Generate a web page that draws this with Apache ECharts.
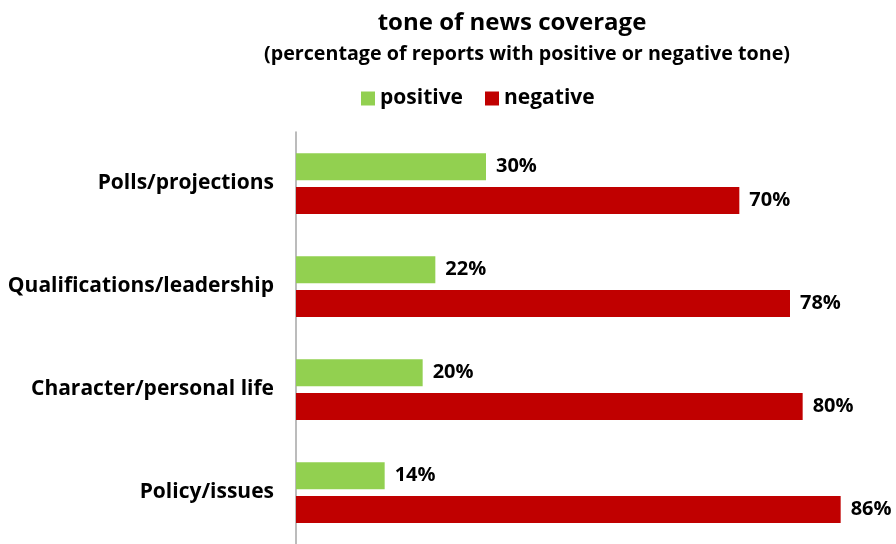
<!DOCTYPE html>
<html><head><meta charset="utf-8">
<script src="https://cdn.jsdelivr.net/npm/echarts@6/dist/echarts.min.js"></script>
<style>html,body{margin:0;padding:0;background:#fff}#c{width:896px;height:544px}</style>
</head><body><div id="c"></div>
<script>
const categories = ['Polls/projections', 'Qualifications/leadership', 'Character/personal life', 'Policy/issues'];
const positive = [30, 22, 20, 14];
const negative = [70, 78, 80, 86];
const FONT = 'Open Sans';
const chart = echarts.init(document.getElementById('c'));
const labelStyle = {show: true, position: 'right', distance: 10, formatter: '{c}%', color: '#000', fontFamily: FONT, fontWeight: 'bold', fontSize: 20, padding: [3, 0, 0, 0]};
chart.setOption({
  animation: false,
  title: [{
    text: 'tone of news coverage',
    left: 512, top: 11, textAlign: 'center', padding: 0,
    textStyle: {fontFamily: FONT, fontWeight: 'bold', fontSize: 24, color: '#000'}
  }, {
    text: '(percentage of reports with positive or negative tone)',
    left: 527, top: 44, textAlign: 'center', padding: 0,
    textStyle: {fontFamily: FONT, fontWeight: 'bold', fontSize: 19.7, color: '#000'}
  }],
  legend: {
    top: 83, left: 356, itemWidth: 14, itemHeight: 14, itemGap: 22,
    icon: 'rect',
    textStyle: {fontFamily: FONT, fontWeight: 'bold', fontSize: 21, color: '#000'},
    data: ['positive', 'negative']
  },
  grid: {left: 296, top: 132, width: 570, height: 417, containLabel: false},
  xAxis: {type: 'value', min: 0, max: 90, show: false},
  yAxis: {
    type: 'category', data: categories, inverse: true,
    axisLine: {lineStyle: {color: '#A6A6A6', width: 1.5}},
    axisTick: {show: false},
    axisLabel: {margin: 22, color: '#000', fontFamily: FONT, fontWeight: 'bold', fontSize: 21, padding: [5, 0, 0, 0]}
  },
  series: [
    {name: 'positive', type: 'bar', data: positive, barWidth: 27, barGap: '25%', itemStyle: {color: '#92D050'}, label: labelStyle},
    {name: 'negative', type: 'bar', data: negative, barWidth: 27, barGap: '25%', itemStyle: {color: '#C00000'}, label: labelStyle}
  ]
});
</script></body></html>
